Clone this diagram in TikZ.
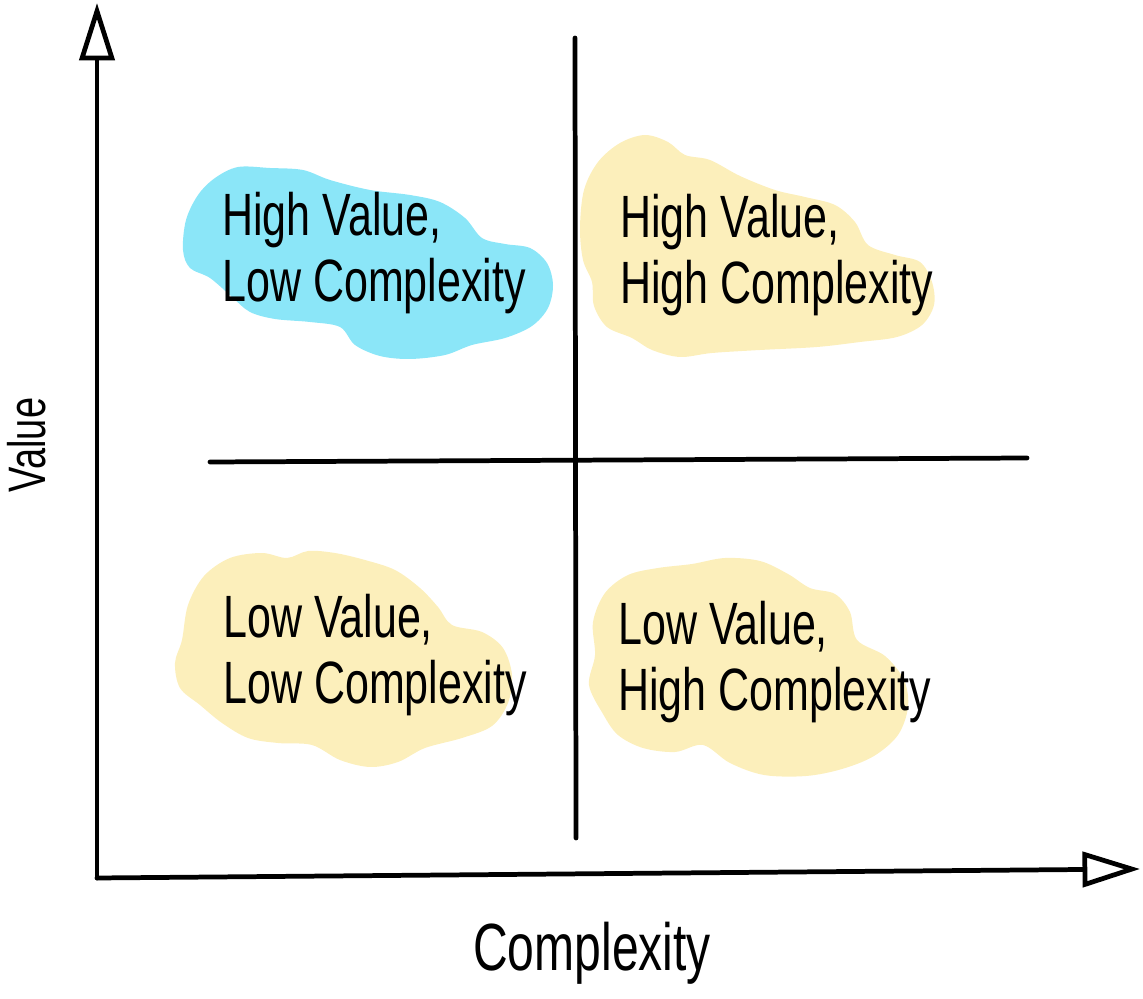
\documentclass[tikz,border=0pt]{standalone}
\usepackage{fontspec}
\newfontfamily\handfont[FakeStretch=0.72]{Liberation Sans}
\usetikzlibrary{arrows.meta}
\definecolor{blobblue}{HTML}{8BE6F8}
\definecolor{blobyellow}{HTML}{FCEFBB}

\begin{document}
\begin{tikzpicture}[
  x=0.02cm, y=-0.02cm,
  axis/.style={line width=2.7pt, line cap=round,
               -{Triangle[open, length=1.15cm, width=0.7cm, line width=2.7pt]}},
  divider/.style={line width=2.7pt, line cap=round},
  quad/.style={font=\handfont\fontsize{34}{37.4}\selectfont, align=left,
               anchor=north west, inner sep=0pt},
  axlabel/.style={font=\handfont\fontsize{38}{40}\selectfont, inner sep=0pt}
]
  \useasboundingbox (0,0) rectangle (1143,999);

  % wolkjes achter de teksten
  \fill[blobblue] plot[smooth cycle, tension=0.55] coordinates {
    (183,250) (186,220) (198,195) (215,178) (238,167) (270,168) (303,170)
    (330,180) (370,190) (410,195) (440,202) (465,218) (482,238) (505,244)
    (530,248) (547,263) (553,285) (548,308) (532,326) (505,338) (472,345)
    (445,355) (410,359) (380,356) (355,345) (340,327) (310,322) (275,319)
    (250,312) (232,297) (210,278) (190,268)};
  \fill[blobyellow] plot[smooth cycle, tension=0.55] coordinates {
    (584,190) (598,162) (620,143) (645,135) (668,142) (685,155) (710,160)
    (740,176) (775,190) (805,197) (835,205) (855,222) (868,245) (895,255)
    (920,262) (932,282) (934,305) (922,325) (897,337) (860,342) (817,347)
    (760,350) (712,353) (680,357) (652,350) (632,338) (607,327) (594,306)
    (592,282) (583,260) (580,228)};
  \fill[blobyellow] plot[smooth cycle, tension=0.55] coordinates {
    (182,640) (188,605) (204,576) (230,558) (262,553) (287,558) (308,551)
    (335,553) (365,560) (395,570) (420,588) (438,607) (452,625) (482,632)
    (503,648) (512,675) (508,703) (492,726) (462,738) (425,748) (398,762)
    (370,767) (340,760) (312,745) (278,743) (248,738) (222,723) (200,705)
    (180,688) (175,663)};
  \fill[blobyellow] plot[smooth cycle, tension=0.55] coordinates {
    (595,655) (593,622) (605,593) (628,575) (658,568) (692,564) (725,558)
    (760,561) (788,574) (810,588) (835,594) (850,612) (857,640) (885,656)
    (904,680) (908,707) (898,735) (874,756) (842,769) (806,776) (764,775)
    (730,763) (703,745) (675,752) (643,748) (618,735) (603,714) (589,685)};

  % assen en kwadrantlijnen
  \coordinate (origin) at (97,878);
  \coordinate (ytip)   at (97,3);
  \coordinate (xtip)   at (1140,869);
  \coordinate (vtop)   at (575,38);
  \coordinate (vbot)   at (576,838);
  \coordinate (hleft)  at (210,462);
  \coordinate (hright) at (1027,458);
  \draw[axis] (origin) -- (ytip);
  \draw[axis] (origin) -- (xtip);
  \draw[divider] (vtop) -- (vbot);
  \draw[divider] (hleft) -- (hright);

  \node[quad] (hvlc) at (222,192) {High Value,\\Low Complexity};
  \node[quad] (hvhc) at (620,194) {High Value,\\High Complexity};
  \node[quad] (lvlc) at (223,594) {Low Value,\\Low Complexity};
  \node[quad] (lvhc) at (618,601) {Low Value,\\High Complexity};

  \node[axlabel, rotate=90, font=\handfont\fontsize{30}{32}\selectfont]
    (vlabel) at (27,445) {Value};
  \node[axlabel] (clabel) at (592,953) {Complexity};
\end{tikzpicture}
\end{document}
